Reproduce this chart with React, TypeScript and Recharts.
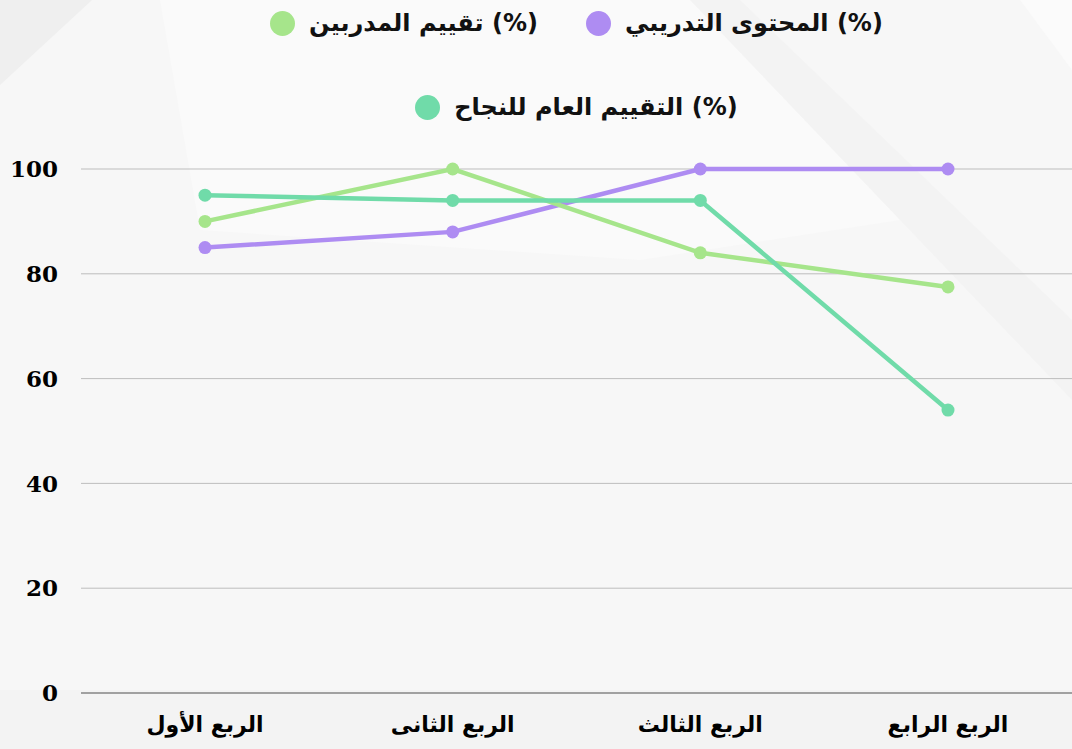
import { LineChart, Line, XAxis, YAxis, CartesianGrid, Legend } from 'recharts';

const QUARTERS = ['الربع الأول', 'الربع الثانى', 'الربع الثالث', 'الربع الرابع'];
const CONTENT = [85, 88, 100, 100];
const TRAINERS = [90, 100, 84, 77.5];
const OVERALL = [95, 94, 94, 54];
const Y_TICKS = [0, 20, 40, 60, 80, 100];

const SERIES = [
  { key: 'content', name: 'المحتوى التدريبي (%)', color: '#ae8cf2' },
  { key: 'trainers', name: 'تقييم المدربين (%)', color: '#a6e58b' },
  { key: 'overall', name: 'التقييم العام للنجاح (%)', color: '#70dba9' },
];

const data = QUARTERS.map((q, i) => ({
  quarter: q,
  content: CONTENT[i],
  trainers: TRAINERS[i],
  overall: OVERALL[i],
}));

const ARABIC_FONT = '"DejaVu Sans", sans-serif';

function LegendItem({ s }: any) {
  return (
    <div style={{ display: 'flex', alignItems: 'center', gap: 14 }}>
      <span style={{ width: 25, height: 25, borderRadius: '50%', background: s.color, display: 'inline-block' }} />
      <span style={{ fontFamily: ARABIC_FONT, fontWeight: 'bold', fontSize: 24, color: '#111' }}>{s.name}</span>
    </div>
  );
}

// rows: first row trainers (left) + content (right), second row overall
const LegendBox = () => (
  <div style={{ width: 1072, height: 169, position: 'relative' }}>
    <div style={{ position: 'absolute', top: 9, left: 81, right: 0, display: 'flex', justifyContent: 'center', gap: 48 }}>
      <LegendItem s={SERIES[1]} />
      <LegendItem s={SERIES[0]} />
    </div>
    <div style={{ position: 'absolute', top: 93, left: 81, right: 0, display: 'flex', justifyContent: 'center' }}>
      <LegendItem s={SERIES[2]} />
    </div>
  </div>
);

function Background() {
  return (
    <svg width={1072} height={749} style={{ position: 'absolute', top: 0, left: 0 }}>
      <rect width={1072} height={749} fill="#f7f7f7" />
      <polygon points="0,0 92,0 0,85" fill="#efefef" />
      <polygon points="160,0 690,0 900,220 640,260 200,230" fill="#fafafa" />
      <polygon points="690,0 740,0 1072,320 1072,400" fill="#ececec" opacity={0.3} />
      <polygon points="1020,0 1072,0 1072,70" fill="#fbfbfb" />
      <rect x={0} y={690} width={1072} height={59} fill="#f3f3f3" />
    </svg>
  );
}

export default function App() {
  return (
    <div style={{ position: 'absolute', top: 0, left: 0, width: 1072, height: 749, overflow: 'hidden' }}>
      <Background />
      <div style={{ position: 'absolute', top: 0, left: 0 }}>
        <LineChart width={1072} height={749} data={data} margin={{ top: 0, right: 0, bottom: 0, left: 0 }}>
          <CartesianGrid vertical={false} stroke="#bdbdbd" strokeWidth={1} />
          <XAxis
            dataKey="quarter"
            height={56}
            padding={{ left: 124, right: 124 }}
            tickSize={0}
            tickMargin={23}
            axisLine={{ stroke: '#a0a0a0', strokeWidth: 2 }}
            tick={{ fill: '#000', fontSize: 22, fontWeight: 'bold', fontFamily: ARABIC_FONT }}
          />
          <YAxis
            width={81}
            domain={[0, 100]}
            ticks={Y_TICKS}
            tickSize={0}
            tickMargin={23}
            axisLine={false}
            tick={{ fill: '#000', fontSize: 23, fontWeight: 'bold', fontFamily: '"DejaVu Serif", serif' }}
          />
          <Legend verticalAlign="top" align="center" content={() => <LegendBox />} />
          {SERIES.map((s) => (
            <Line
              key={s.key}
              type="linear"
              dataKey={s.key}
              name={s.name}
              stroke={s.color}
              strokeWidth={4.5}
              dot={{ r: 6.5, fill: s.color, stroke: s.color, strokeWidth: 0 }}
              isAnimationActive={false}
            />
          ))}
        </LineChart>
      </div>
    </div>
  );
}
